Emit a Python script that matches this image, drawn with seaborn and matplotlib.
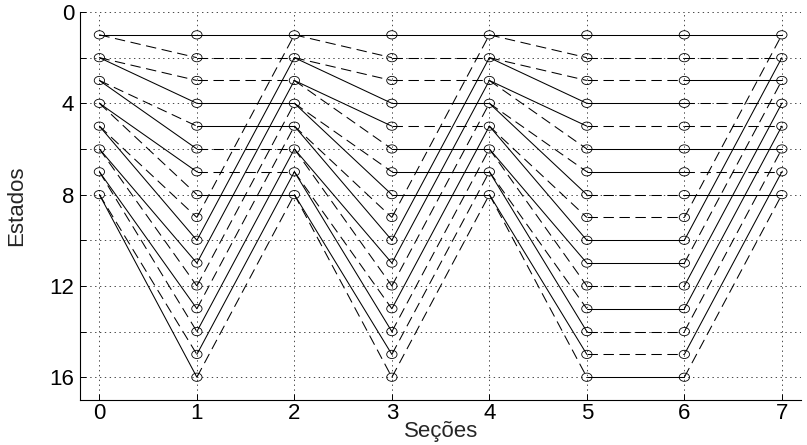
import numpy as np
import pandas as pd
import matplotlib
matplotlib.use("Agg")
import matplotlib.pyplot as plt
import seaborn as sns
from matplotlib.path import Path

# Trellis description
sections = [0, 1, 2, 3, 4, 5, 6, 7]
n_states = [8, 16, 8, 16, 8, 16, 16, 8]
# how the branches connect consecutive sections
transitions = ["split", "merge", "split", "merge", "split", "parallel", "merge"]
# branch style per transition (0 = solid, 1 = dashed);
# split: listed by target state, merge/parallel: listed by source state
branch_bits = [
    [0, 1, 1, 0, 1, 0, 0, 1, 1, 0, 0, 1, 0, 1, 1, 0],
    [0, 1, 1, 0, 0, 1, 1, 0, 1, 0, 0, 1, 1, 0, 0, 1],
    [0, 1, 1, 0, 0, 1, 1, 0, 1, 0, 0, 1, 1, 0, 0, 1],
    [0, 1, 1, 0, 1, 0, 0, 0, 1, 0, 0, 1, 0, 1, 1, 1],
    [0, 1, 1, 0, 0, 1, 1, 0, 1, 0, 0, 1, 1, 0, 0, 1],
    [0, 1, 1, 0, 1, 0, 0, 1, 1, 0, 0, 1, 0, 1, 1, 0],
    [0, 1, 0, 1, 1, 0, 1, 0, 1, 0, 1, 0, 0, 1, 0, 1],
]
y_ticks = [0, 2, 4, 6, 8, 10, 12, 14, 16]
y_tick_labels = ["0", "", "4", "", "8", "", "12", "", "16"]
x_label = "Seções"
y_label = "Estados"

# Build the branch table
rows = []
eid = 0
for i, kind in enumerate(transitions):
    x0, x1 = sections[i], sections[i + 1]
    bits = branch_bits[i]
    if kind == "split":
        pairs = [(s, 2 * s - 1 + j) for s in range(1, n_states[i] + 1) for j in (0, 1)]
        styles = [bits[t - 1] for _, t in pairs]
    elif kind == "merge":
        half = n_states[i + 1]
        pairs = [(k, k if k <= half else k - half) for k in range(1, n_states[i] + 1)]
        styles = [bits[k - 1] for k, _ in pairs]
    else:
        pairs = [(k, k) for k in range(1, n_states[i] + 1)]
        styles = [bits[k - 1] for k, _ in pairs]
    for (a, b), st in zip(pairs, styles):
        kind_name = "dashed" if st else "solid"
        rows.append({"edge": eid, "x": x0, "y": a, "kind": kind_name})
        rows.append({"edge": eid, "x": x1, "y": b, "kind": kind_name})
        eid += 1
edges = pd.DataFrame(rows)

nodes = pd.DataFrame(
    [{"x": sx, "y": s} for sx, n in zip(sections, n_states) for s in range(1, n + 1)]
)

sns.set_theme(style="white")
plt.rcParams["font.family"] = ["Liberation Sans", "DejaVu Sans"]
plt.rcParams["lines.scale_dashes"] = False

fig = plt.figure(figsize=(8.07, 4.45), dpi=100)
ax = fig.add_axes([0.099, 0.101, 0.894, 0.872])

sns.lineplot(
    data=edges, x="x", y="y", units="edge", estimator=None, sort=False,
    style="kind", dashes={"solid": "", "dashed": (7.5, 4)},
    color="black", linewidth=0.75, legend=False, ax=ax, zorder=2,
)

# hollow, slightly wide ellipse marker
circ = Path.unit_circle()
ellipse = Path(circ.vertices * np.array([1.25, 1.0]), circ.codes)
sns.scatterplot(
    data=nodes, x="x", y="y", marker=ellipse, s=55,
    color="black", linewidth=0.6, legend=False, ax=ax, zorder=3,
)
for coll in ax.collections:
    coll.set_facecolor("none")
    coll.set_edgecolor("black")

ax.set_xlim(-0.2, 7.2)
ax.set_ylim(17, 0)
ax.set_xticks(sections)
ax.set_yticks(y_ticks)
ax.set_yticklabels(y_tick_labels)
ax.grid(True, linestyle=(0, (1, 2.5)), color="black", linewidth=0.5)
ax.set_axisbelow(True)
ax.tick_params(direction="in", length=4, width=0.7, labelsize=16, colors="black",
               left=True, bottom=True)
ax.tick_params(axis="x", pad=2)
ax.tick_params(axis="y", pad=4)
for side in ("top", "right"):
    ax.spines[side].set_visible(False)
for side in ("left", "bottom"):
    ax.spines[side].set_color("black")
    ax.spines[side].set_linewidth(0.8)
ax.set_xlabel(x_label, fontsize=16, labelpad=-2)
ax.set_ylabel(y_label, fontsize=16, labelpad=16)

fig.savefig("out.png", dpi=100)
